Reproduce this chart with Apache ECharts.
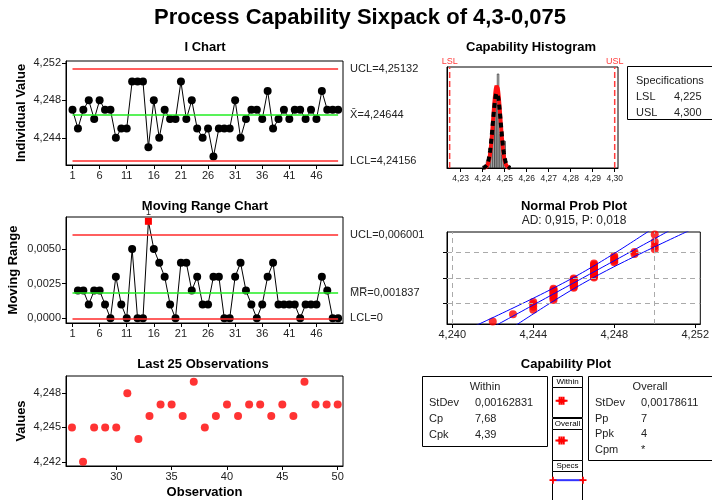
<!DOCTYPE html>
<html><head><meta charset="utf-8">
<script src="https://cdn.jsdelivr.net/npm/echarts@6/dist/echarts.min.js"></script>
<style>html,body{margin:0;padding:0;background:#fff}#c{width:712px;height:500px}</style>
</head><body><div id="c"></div>
<script>
// ---------------- data ----------------
const obsValues = [4.247,4.245,4.247,4.248,4.246,4.248,4.247,4.247,4.244,4.245,
  4.245,4.250,4.250,4.250,4.243,4.248,4.244,4.247,4.246,4.246,
  4.250,4.246,4.248,4.245,4.244,4.245,4.242,4.245,4.245,4.245,
  4.248,4.244,4.246,4.247,4.247,4.246,4.249,4.245,4.246,4.247,
  4.246,4.247,4.247,4.246,4.247,4.246,4.249,4.247,4.247,4.247];
// moving ranges for observations 2..50
const movingRanges = [0.002,0.002,0.001,0.002,0.002,0.001,0,0.003,0.001,0,
  0.005,0,0,0.007,0.005,0.004,0.003,0.001,0,0.004,
  0.004,0.002,0.003,0.001,0.001,0.003,0.003,0,0,0.003,
  0.004,0.002,0.001,0,0.001,0.003,0.004,0.001,0.001,0.001,
  0.001,0,0.001,0.001,0.001,0.003,0.002,0,0];
const histBins = [4.242,4.243,4.244,4.245,4.246,4.247,4.248,4.249,4.250];
const histCounts = [1,1,4,9,10,14,5,2,4];
const histBinWidth = 0.001;

const iUCL = 4.25132, iMean = 4.24644, iLCL = 4.24156;
const mrUCL = 0.006001, mrMean = 0.001837, mrLCL = 0;
const LSL = 4.225, USL = 4.300;
const sdWithin = 0.00162831, sdOverall = 0.00178611;
const withinStats = [['StDev','0,00162831'],['Cp','7,68'],['Cpk','4,39']];
const overallStats = [['StDev','0,00178611'],['Pp','7'],['Ppk','4'],['Cpm','*']];
const specStats = [['LSL','4,225'],['USL','4,300']];

// tick labels
const iTicksX = [1,6,11,16,21,26,31,36,41,46];
const iTicksY = [4.244,4.248,4.252];
const mrTicksY = [0,0.0025,0.005];
const lastTicksX = [30,35,40,45,50];
const lastTicksY = [4.242,4.245,4.248];
const histTicks = [4.23,4.24,4.25,4.26,4.27,4.28,4.29,4.30];
const histYMax = 15;
const probTicks = [4.240,4.244,4.248,4.252];
const probGridPct = [10,50,90];
const probRangePct = [1,99];

// ---------------- helpers ----------------
const fmtC = (v,d) => v.toFixed(d).replace('.', ',');
function normInv(p){
  const a=[-3.969683028665376e+01,2.209460984245205e+02,-2.759285104469687e+02,1.383577518672690e+02,-3.066479806614716e+01,2.506628277459239e+00];
  const b=[-5.447609879822406e+01,1.615858368580409e+02,-1.556989798598866e+02,6.680131188771972e+01,-1.328068155288572e+01];
  const c=[-7.784894002430293e-03,-3.223964580411365e-01,-2.400758277161838e+00,-2.549732539343734e+00,4.374664141464968e+00,2.938163982698783e+00];
  const d=[7.784695709041462e-03,3.224671290700398e-01,2.445134137142996e+00,3.754408661907416e+00];
  const pl=0.02425, ph=1-pl; let q,r;
  if(p<pl){q=Math.sqrt(-2*Math.log(p));return (((((c[0]*q+c[1])*q+c[2])*q+c[3])*q+c[4])*q+c[5])/((((d[0]*q+d[1])*q+d[2])*q+d[3])*q+1);}
  if(p<=ph){q=p-0.5;r=q*q;return (((((a[0]*r+a[1])*r+a[2])*r+a[3])*r+a[4])*r+a[5])*q/(((((b[0]*r+b[1])*r+b[2])*r+b[3])*r+b[4])*r+1);}
  q=Math.sqrt(-2*Math.log(1-p));return -(((((c[0]*q+c[1])*q+c[2])*q+c[3])*q+c[4])*q+c[5])/((((d[0]*q+d[1])*q+d[2])*q+d[3])*q+1);
}
const normPdf = (x,m,s) => Math.exp(-0.5*((x-m)/s)**2)/(s*Math.sqrt(2*Math.PI));

const LBL = {fontFamily:'Liberation Sans', fontSize:11, color:'#222'};
const BOLD = 'bold 13px "Liberation Sans"';
function axis(gi, min, max, ticks, fmt, extra, lblExtra){
  return Object.assign({
    gridIndex:gi, type:'value', min:min, max:max,
    axisLine:{show:true,onZero:false,lineStyle:{color:'#000',width:1}},
    splitLine:{show:false},
    axisTick: ticks ? {show:true,length:4,lineStyle:{color:'#000'},customValues:ticks} : {show:false},
    axisLabel: (ticks && fmt) ? Object.assign({show:true,customValues:ticks,formatter:fmt,margin:5},LBL,lblExtra||{}) : {show:false}
  }, extra||{});
}
const nameStyle = {fontFamily:'Liberation Sans', fontWeight:'bold', fontSize:13, color:'#000'};
const limLabel = Object.assign({show:true, position:'end', distance:12}, LBL);
const RED = '#ff2a2a', GREEN = '#22ee22';

function hLine(x0,x1,y,color,text){
  return [{coord:[x0,y], lineStyle:{color:color,width:1.5,type:'solid'}, label:Object.assign({},limLabel,{formatter:text})},{coord:[x1,y]}];
}

const n = obsValues.length;
const nums = obsValues.map((v,i)=>i+1);

// I chart
const iData = obsValues.map((v,i)=>[nums[i],v]);
// MR chart
const mrData = movingRanges.map((v,i)=>{
  const item = {value:[nums[i+1],v]};
  if (v > mrUCL) {
    item.symbol='rect'; item.symbolSize=7;
    item.itemStyle={color:'#ff0000'};
    item.label={show:true,formatter:'1',position:'top',distance:1,fontSize:9,color:'#222',fontFamily:'Liberation Sans'};
  }
  return item;
});
// last 25
const lastData = obsValues.slice(n-25).map((v,i)=>[nums[n-25+i],v]);
// histogram
const histData = histBins.map((b,i)=>[b,histCounts[i]]);
function curve(sd){
  const pts=[]; for(let k=0;k<=80;k++){const x=iMean-3.6*sd+k*7.2*sd/80; pts.push([x, n*histBinWidth*normPdf(x,iMean,sd)]);} return pts;
}
function specLine(v,name){
  return {type:'line', xAxisIndex:3, yAxisIndex:3, symbol:'circle', symbolSize:0.01, showSymbol:true, clip:false, z:4,
    itemStyle:{color:'#ff3c3c'},
    lineStyle:{color:'#ff3c3c',width:1.5,type:[6,3]},
    data:[{value:[v,0]},{value:[v,histYMax],label:{show:true,formatter:name,position:'top',distance:1,color:'#ff3c3c',fontSize:9,fontFamily:'Liberation Sans'}}]};
}
// normal probability plot
const sorted = obsValues.slice().sort((a,b)=>a-b);
const probPts = sorted.map((v,i)=>[v, normInv((i+1-0.3)/(n+0.4))]);
const zLo = normInv(probRangePct[0]/100), zHi = normInv(probRangePct[1]/100);
const fitLine=[], bandLo=[], bandHi=[];
for(let k=0;k<=60;k++){
  const z = -2.8 + k*5.6/60;
  const x = iMean + sdOverall*z;
  const h = 1.96*sdOverall*Math.sqrt(1/n + z*z/(2*n));
  fitLine.push([x,z]); bandLo.push([x-h,z]); bandHi.push([x+h,z]);
}
const probGridLines = probTicks.map(v=>({xAxis:v})).concat(probGridPct.map(p=>({yAxis:normInv(p/100)})));

// capability plot intervals
const capRows = ['Within','Overall','Specs'];
const plusSym = 'path://M3,0H5V3H8V5H5V8H3V5H0V3H3Z';

// ---------------- graphics (titles, boxes) ----------------
function txt(x,y,text,font,align,color){
  return {type:'text', x:x, y:y, silent:true, z:10, style:{text:text, font:font, fill:color||'#000', align:align||'center', verticalAlign:'middle'}};
}
function box(x,y,w,h,lw){
  return {type:'rect', silent:true, z:1, shape:{x:x,y:y,width:w,height:h}, style:{fill:'#fff', stroke:'#000', lineWidth:lw||1}};
}
const F11 = '11px "Liberation Sans"';
const graphics = [
  txt(360,18,'Process Capability Sixpack of 4,3-0,075','bold 22px "Liberation Sans"'),
  txt(205,47,'I Chart',BOLD),
  txt(205,206,'Moving Range Chart',BOLD),
  txt(203,364,'Last 25 Observations',BOLD),
  txt(531,47,'Capability Histogram',BOLD),
  txt(574,206,'Normal Prob Plot',BOLD),
  txt(574,221,'AD: 0,915, P: 0,018','12px "Liberation Sans"',null,'#222'),
  txt(566,364,'Capability Plot',BOLD),
  // specifications box
  box(627.5,66.5,95,53),
  txt(636,81,'Specifications',F11,'left','#222'),
  // within box
  box(422.5,376.5,125,70),
  txt(485,387,'Within',F11,'center','#222'),
  // overall box
  box(588.5,376.5,130,84),
  txt(650,387,'Overall',F11,'center','#222'),
  // middle column
  box(552.5,387.5,30,30), box(552.5,429.5,30,31), box(552.5,471.5,30,40),
  box(552.5,376.5,30,11), box(552.5,418.5,30,11), box(552.5,460.5,30,11),
  txt(567.5,382,'Within','8px "Liberation Sans"'),
  txt(567.5,424,'Overall','8px "Liberation Sans"'),
  txt(567.5,466,'Specs','8px "Liberation Sans"')
];
specStats.forEach((r,i)=>{ graphics.push(txt(636,97+i*16,r[0],F11,'left','#222')); graphics.push(txt(674,97+i*16,r[1],F11,'left','#222')); });
withinStats.forEach((r,i)=>{ graphics.push(txt(429,403+i*16,r[0],F11,'left','#222')); graphics.push(txt(475,403+i*16,r[1],F11,'left','#222')); });
overallStats.forEach((r,i)=>{ graphics.push(txt(595,403+i*15.6,r[0],F11,'left','#222')); graphics.push(txt(641,403+i*15.6,r[1],F11,'left','#222')); });

// ---------------- option ----------------
const option = {
  animation:false,
  backgroundColor:'#fff',
  grid:[
    {left:66, top:61, width:277, height:104, show:true, borderColor:'#000', borderWidth:1},
    {left:66, top:217, width:277, height:106, show:true, borderColor:'#000', borderWidth:1},
    {left:66, top:376, width:277, height:92, show:true, borderColor:'#000', borderWidth:1},
    {left:447, top:67, width:171, height:101, show:true, borderColor:'#000', borderWidth:1},
    {left:447, top:232, width:256, height:92, show:true, borderColor:'#000', borderWidth:1},
    {left:553, top:381, width:30, height:127.5, show:false}
  ],
  xAxis:[
    axis(0,-0.2,50.9,iTicksX,v=>String(v)),
    axis(1,-0.2,50.9,iTicksX,v=>String(v)),
    axis(2,25.46,50.48,lastTicksX,v=>String(v),{name:'Observation',nameLocation:'middle',nameGap:20,nameTextStyle:nameStyle}),
    axis(3,4.2238,4.3015,histTicks,v=>fmtC(v,2),null,{fontSize:8.5,margin:6}),
    axis(4,4.23974,4.25225,probTicks,v=>fmtC(v,3)),
    {gridIndex:5,type:'value',min:LSL,max:USL,show:false}
  ],
  yAxis:[
    axis(0,4.2411,4.2522,iTicksY,v=>fmtC(v,3),{name:'Individual Value',nameLocation:'middle',nameGap:38,nameRotate:90,nameTextStyle:nameStyle}),
    axis(1,-0.00034,0.00731,mrTicksY,v=>fmtC(v,4),{name:'Moving Range',nameLocation:'middle',nameGap:46,nameRotate:90,nameTextStyle:nameStyle}),
    axis(2,4.24163,4.2495,lastTicksY,v=>fmtC(v,3),{name:'Values',nameLocation:'middle',nameGap:38,nameRotate:90,nameTextStyle:nameStyle}),
    axis(3,0,histYMax,null,null),
    axis(4,zLo,zHi,probGridPct.map(p=>normInv(p/100)),null),
    {gridIndex:5,type:'category',data:capRows,inverse:true,show:false}
  ],
  graphic:graphics,
  series:[
    // I chart
    {type:'line', xAxisIndex:0, yAxisIndex:0, data:iData, symbol:'circle', symbolSize:8,
     itemStyle:{color:'#000'}, lineStyle:{color:'#000',width:1},
     markLine:{silent:true, symbol:'none', animation:false,
       data:[hLine(1,n,iUCL,RED,'UCL='+fmtC(iUCL,5)), hLine(1,n,iMean,GREEN,'X\u0304='+fmtC(iMean,5)), hLine(1,n,iLCL,RED,'LCL='+fmtC(iLCL,5))]}},
    // MR chart
    {type:'line', xAxisIndex:1, yAxisIndex:1, data:mrData, symbol:'circle', symbolSize:8,
     itemStyle:{color:'#000'}, lineStyle:{color:'#000',width:1},
     markLine:{silent:true, symbol:'none', animation:false,
       data:[hLine(1,n,mrUCL,RED,'UCL='+fmtC(mrUCL,6)), hLine(1,n,mrMean,GREEN,'M\u0305R\u0305='+fmtC(mrMean,6)), hLine(1,n,mrLCL,RED,'LCL=0')]}},
    // Last 25
    {type:'scatter', xAxisIndex:2, yAxisIndex:2, data:lastData, symbol:'circle', symbolSize:8, itemStyle:{color:'#ff0000'},
     markLine:{silent:true, symbol:'none', animation:false, label:{show:false}, lineStyle:{color:'#000',width:1,type:'solid'}, data:[{yAxis:iMean}]}},
    // histogram
    {type:'bar', xAxisIndex:3, yAxisIndex:3, data:histData, barWidth:2.2, itemStyle:{color:'#bbbbbb', borderColor:'#000', borderWidth:0.5}},
    specLine(LSL,'LSL'),
    specLine(USL,'USL'),
    {type:'line', xAxisIndex:3, yAxisIndex:3, data:curve(sdWithin), symbol:'none', lineStyle:{color:'#ff1010',width:4}},
    {type:'line', xAxisIndex:3, yAxisIndex:3, data:curve(sdOverall), symbol:'none', lineStyle:{color:'#000',width:4,type:[5,4]}},
    // normal prob plot
    {type:'line', xAxisIndex:4, yAxisIndex:4, data:[], markLine:{silent:true,symbol:'none',animation:false,label:{show:false},
       lineStyle:{color:'#aaa',width:1,type:[5,4]}, data:probGridLines}},
    {type:'line', xAxisIndex:4, yAxisIndex:4, data:bandLo, symbol:'none', lineStyle:{color:'#0000ff',width:1}},
    {type:'line', xAxisIndex:4, yAxisIndex:4, data:fitLine, symbol:'none', lineStyle:{color:'#0000ff',width:1}},
    {type:'line', xAxisIndex:4, yAxisIndex:4, data:bandHi, symbol:'none', lineStyle:{color:'#0000ff',width:1}},
    {type:'scatter', xAxisIndex:4, yAxisIndex:4, data:probPts, symbol:'circle', symbolSize:8, itemStyle:{color:'#ff0000'}},
    // capability plot
    {type:'line', xAxisIndex:5, yAxisIndex:5, z:5, data:[[iMean-3*sdWithin,'Within'],[iMean,'Within'],[iMean+3*sdWithin,'Within']],
     symbol:plusSym, symbolSize:8, itemStyle:{color:'#ff0000'}, lineStyle:{color:'#ff0000',width:4}},
    {type:'line', xAxisIndex:5, yAxisIndex:5, z:5, data:[[iMean-3*sdOverall,'Overall'],[iMean,'Overall'],[iMean+3*sdOverall,'Overall']],
     symbol:plusSym, symbolSize:8, itemStyle:{color:'#ff0000'}, lineStyle:{color:'#ff0000',width:4}},
    {type:'line', xAxisIndex:5, yAxisIndex:5, z:5, data:[[LSL,'Specs'],[USL,'Specs']],
     symbol:plusSym, symbolSize:7, itemStyle:{color:'#ff0000'}, lineStyle:{color:'#3333ff',width:2}}
  ]
};
const chart = echarts.init(document.getElementById('c'), null, {renderer:'canvas'});
chart.setOption(option);
</script>
</body></html>
